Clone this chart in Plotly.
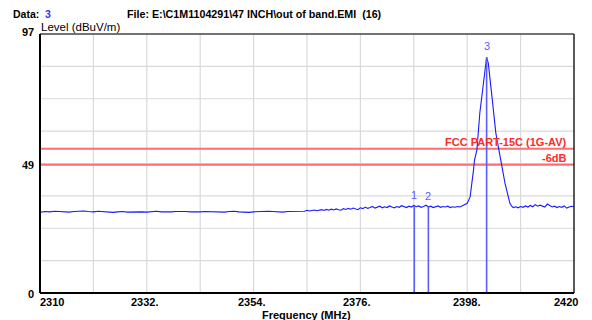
import numpy as np
import plotly.graph_objects as go

# ---- data -------------------------------------------------------------
# smooth noise floor, 2310-2363 MHz in 1 MHz steps (dBuV/m)
floor_left_start, floor_left_step = 2310.0, 1.0
floor_left = [
    30.2, 30.5, 30.4, 30.6, 30.5, 30.4, 30.3, 30.5, 30.6, 30.7,
    30.5, 30.4, 30.6, 30.5, 30.3, 30.2, 30.4, 30.5, 30.3, 30.4,
    30.5, 30.4, 30.3, 30.5, 30.6, 30.4, 30.3, 30.4, 30.5, 30.6,
    30.5, 30.4, 30.3, 30.4, 30.5, 30.4, 30.5, 30.4, 30.3, 30.5,
    30.6, 30.4, 30.3, 30.2, 30.4, 30.5, 30.4, 30.6, 30.5, 30.4,
    30.3, 30.5, 30.6, 30.7,
]
# noisier floor, 2364-2397.5 MHz in 0.5 MHz steps
floor_mid_start, floor_mid_step = 2364.0, 0.5
floor_mid = [
    30.8, 30.6, 31.0, 30.7, 30.9, 31.1, 30.8, 31.0, 31.2, 30.9,
    31.3, 31.0, 31.4, 31.1, 31.5, 31.2, 31.0, 31.6, 31.3, 31.7,
    31.4, 31.8, 31.5, 31.2, 31.9, 31.6, 32.2, 31.7, 32.0, 32.4,
    31.8, 32.1, 32.5, 31.9, 32.3, 32.0, 32.6, 32.2, 31.9, 32.4,
    32.1, 32.7, 32.3, 32.0, 32.5, 32.2, 32.8, 32.3, 32.6, 32.1,
    32.4, 32.9, 32.2, 32.5, 32.0, 32.3, 32.6, 32.1, 32.4, 32.2,
    32.5, 32.0, 32.3, 32.1, 32.4, 32.2, 32.6, 33.0,
]
# carrier
peak_freq = [2398.0, 2398.6, 2398.9, 2399.3, 2399.5, 2400.0, 2400.6, 2401.0,
             2401.3, 2401.7, 2402.0, 2402.35, 2402.7, 2403.25, 2403.9, 2404.4,
             2404.9, 2405.8, 2406.3, 2406.8, 2407.2]
peak_level = [33.6, 36.0, 39.8, 46.0, 49.8, 53.6, 67.4, 73.5,
              79.8, 84.8, 88.3, 86.0, 81.0, 71.0, 59.9, 54.8,
              48.6, 41.0, 37.3, 33.6, 32.4]
# floor above the carrier, 2407.5-2420 MHz in 0.5 MHz steps
floor_right_start, floor_right_step = 2407.5, 0.5
floor_right = [
    32.0, 32.3, 31.9, 32.4, 32.1, 32.6, 32.2, 32.8, 32.3, 33.1,
    32.5, 32.9, 32.4, 32.2, 33.3, 32.6, 32.2, 32.5, 32.0, 32.4,
    32.1, 32.6, 31.8, 32.2, 32.5, 32.3,
]

marker_names = ["1", "2", "3"]
marker_freq = [2387.1, 2390.0, 2402.0]

limit_av = 54.0          # FCC PART-15C (1G-AV)
limit_margin = 48.0      # -6dB

x_tick_vals = [2310, 2332, 2354, 2376, 2398, 2420]
x_tick_text = ["2310", "2332.", "2354.", "2376.", "2398.", "2420"]
y_tick_vals = [97, 48.5, 0]
y_tick_text = ["97", "49", "0"]

# ---- assemble trace -------------------------------------------------
def grid(start, step, vals):
    return list(start + step * np.arange(len(vals)))

freq = (grid(floor_left_start, floor_left_step, floor_left)
        + grid(floor_mid_start, floor_mid_step, floor_mid)
        + peak_freq
        + grid(floor_right_start, floor_right_step, floor_right))
level = floor_left + floor_mid + peak_level + floor_right
marker_level = [float(np.interp(f, freq, level)) for f in marker_freq]

# ---- geometry --------------------------------------------------------
W, H = 592, 320
L, R, T, B = 40, 18, 34, 27
PW, PH = W - L - R, H - T - B
X0, X1 = 2310, 2420
Y0, Y1 = 0, 97

def px(x):      # pixel -> paper x
    return (x - L) / PW

def py(y):      # pixel -> paper y
    return (H - B - y) / PH

FONT = "Liberation Sans, Arial, sans-serif"
TRACE_BLUE = "#1a1aff"
MARK_BLUE = "#5c5cff"
RED_LINE = "#ff6e6e"
RED_TEXT = "#ff2a2a"

fig = go.Figure()

# gridlines every 11 MHz and every 1/8 of the level span
for k in range(1, 10):
    fx = X0 + 11 * k
    fig.add_shape(type="line", x0=fx, x1=fx, y0=Y0, y1=Y1, xref="x", yref="y",
                  line=dict(color="#d9d9d9", width=1.2), layer="below")
for k in range(1, 8):
    gy = Y1 * k / 8
    fig.add_shape(type="line", x0=X0, x1=X1, y0=gy, y1=gy, xref="x", yref="y",
                  line=dict(color="#d9d9d9", width=1.2), layer="below")

# limit lines
for lim in (limit_av, limit_margin):
    fig.add_trace(go.Scatter(x=[X0, X1], y=[lim, lim], mode="lines",
                             line=dict(color=RED_LINE, width=2),
                             hoverinfo="skip", showlegend=False))

# spectrum
fig.add_trace(go.Scatter(x=freq, y=level, mode="lines",
                         line=dict(color=TRACE_BLUE, width=1.1),
                         showlegend=False))

# markers
for name, f, lv in zip(marker_names, marker_freq, marker_level):
    fig.add_trace(go.Scatter(x=[f, f], y=[Y0, lv], mode="lines",
                             line=dict(color=MARK_BLUE, width=1.6),
                             hoverinfo="skip", showlegend=False))
    fig.add_annotation(x=f, y=lv, xref="x", yref="y", text=name,
                       showarrow=False, yanchor="bottom", yshift=3,
                       font=dict(family=FONT, size=11, color=MARK_BLUE))

# frame
fig.add_shape(type="line", xref="paper", yref="paper", x0=0, x1=1, y0=1, y1=1,
              line=dict(color="#444444", width=1.5))
fig.add_shape(type="line", xref="paper", yref="paper", x0=1, x1=1, y0=0, y1=1,
              line=dict(color="#222222", width=1.5))
fig.add_shape(type="line", xref="paper", yref="paper", x0=0, x1=0, y0=0, y1=1,
              line=dict(color="#000000", width=2))
fig.add_shape(type="line", xref="paper", yref="paper", x0=0, x1=1, y0=0, y1=0,
              line=dict(color="#000000", width=2))

# limit labels
fig.add_annotation(xref="paper", yref="y", x=px(569), y=limit_av, yshift=7,
                   text="FCC PART-15C (1G-AV)", showarrow=False,
                   xanchor="right", yanchor="middle",
                   font=dict(family=FONT, size=11, color=RED_TEXT, weight="bold"))
fig.add_annotation(xref="paper", yref="y", x=px(569), y=limit_margin, yshift=7,
                   text="-6dB", showarrow=False,
                   xanchor="right", yanchor="middle",
                   font=dict(family=FONT, size=11, color=RED_TEXT, weight="bold"))

# x tick labels
x_label_px = [52, 144.5, 252, 356.5, 466.5, 566]
for lx, txt in zip(x_label_px, x_tick_text):
    fig.add_annotation(xref="paper", yref="paper", x=px(lx), y=py(302),
                       text=txt, showarrow=False, xanchor="center", yanchor="middle",
                       font=dict(family=FONT, size=11, color="black", weight="bold"))

# y tick labels
y_label_pos = [(36, 32), (36, 165), (36, 294)]
for (lx, ly), txt in zip(y_label_pos, y_tick_text):
    fam = "Liberation Serif, Times New Roman, serif" if txt == "49" else FONT
    fig.add_annotation(xref="paper", yref="paper", x=px(lx), y=py(ly),
                       text=txt, showarrow=False, xanchor="right", yanchor="middle",
                       font=dict(family=fam, size=12 if txt == "49" else 11,
                                 color="black", weight="bold"))

# titles
fig.add_annotation(xref="paper", yref="paper", x=px(306), y=py(315),
                   text="Frequency (MHz)", showarrow=False,
                   xanchor="center", yanchor="middle",
                   font=dict(family=FONT, size=11, color="black", weight="bold"))
fig.add_annotation(xref="paper", yref="paper", x=px(40), y=py(27),
                   text="Level (dBuV/m)", showarrow=False,
                   xanchor="left", yanchor="middle", borderpad=0,
                   font=dict(family=FONT, size=11.5, color="black"))
fig.add_annotation(xref="paper", yref="paper", x=px(12), y=py(13.5),
                   text="Data:&nbsp;&nbsp;<span style='color:#3030ff'>3</span>",
                   showarrow=False, xanchor="left", yanchor="middle", borderpad=0,
                   font=dict(family=FONT, size=10.5, color="black", weight="bold"))
fig.add_annotation(xref="paper", yref="paper", x=px(125), y=py(14),
                   text="File: E:\\C1M1104291\\47 INCH\\out of band.EMI  (16)",
                   showarrow=False, xanchor="left", yanchor="middle",
                   font=dict(family=FONT, size=10.7, color="black", weight="bold"))

fig.update_layout(
    width=W, height=H,
    margin=dict(l=L, r=R, t=T, b=B, pad=0),
    paper_bgcolor="white", plot_bgcolor="white",
    showlegend=False,
    xaxis=dict(range=[X0, X1], showgrid=False, zeroline=False,
               showticklabels=False, ticks="", showline=False,
               tickvals=x_tick_vals, fixedrange=True),
    yaxis=dict(range=[Y0, Y1], showgrid=False, zeroline=False,
               showticklabels=False, ticks="", showline=False,
               tickvals=y_tick_vals, fixedrange=True),
)

fig.write_html("out.html", config={"displayModeBar": False})
